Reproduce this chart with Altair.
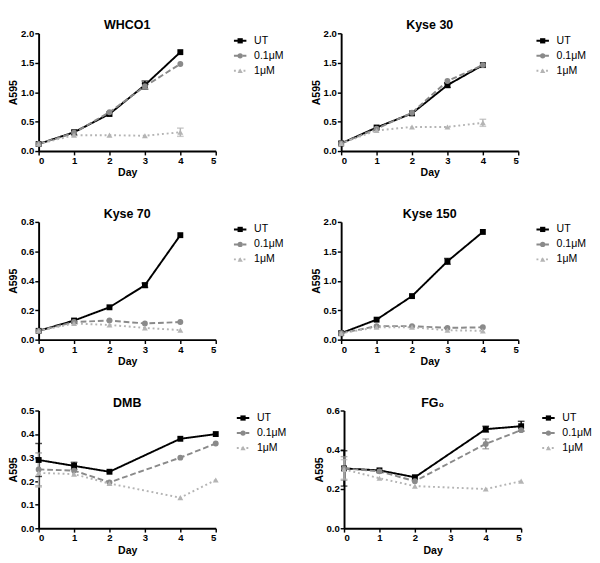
import altair as alt
import pandas as pd

TREATMENTS = ["UT", "0.1μM", "1μM"]
COLORS = ["#000000", "#8a8a8a", "#b4b4b4"]
SHAPES = ["square", "circle", "triangle-up"]
DASHES = [[1, 0], [6, 3], [2, 3]]

X_TICKS = [0, 1, 2, 3, 4, 5]
DAYS_A = [0, 1, 2, 3, 4]
DAYS_B = [0, 1, 2, 4, 5]

# WHCO1
WHCO1_UT = [0.12, 0.32, 0.63, 1.12, 1.68]
WHCO1_P1 = [0.12, 0.31, 0.66, 1.10, 1.48]
WHCO1_P2 = [0.12, 0.27, 0.27, 0.26, 0.32]
WHCO1_UT_ERR = [0, 0, 0, 0.07, 0]
WHCO1_P1_ERR = [0, 0, 0, 0.05, 0]
WHCO1_P2_ERR = [0, 0, 0, 0, 0.07]

# Kyse 30
K30_UT = [0.13, 0.40, 0.64, 1.12, 1.46]
K30_P1 = [0.13, 0.38, 0.65, 1.19, 1.46]
K30_P2 = [0.13, 0.35, 0.41, 0.41, 0.48]
K30_UT_ERR = [0, 0, 0, 0.04, 0]
K30_P1_ERR = [0, 0, 0, 0, 0]
K30_P2_ERR = [0, 0, 0, 0, 0.06]

# Kyse 70
K70_UT = [0.06, 0.13, 0.22, 0.37, 0.71]
K70_P1 = [0.06, 0.12, 0.13, 0.11, 0.12]
K70_P2 = [0.06, 0.11, 0.10, 0.08, 0.065]
K70_UT_ERR = [0, 0, 0, 0.015, 0]
K70_P1_ERR = [0, 0, 0, 0, 0]
K70_P2_ERR = [0, 0, 0, 0, 0]

# Kyse 150
K150_UT = [0.11, 0.34, 0.74, 1.33, 1.83]
K150_P1 = [0.11, 0.23, 0.23, 0.20, 0.21]
K150_P2 = [0.11, 0.21, 0.21, 0.16, 0.15]
K150_UT_ERR = [0, 0, 0, 0.05, 0]
K150_P1_ERR = [0, 0, 0, 0, 0]
K150_P2_ERR = [0, 0, 0, 0, 0]

# DMB
DMB_UT = [0.29, 0.265, 0.24, 0.38, 0.40]
DMB_P1 = [0.25, 0.245, 0.195, 0.30, 0.36]
DMB_P2 = [0.235, 0.23, 0.19, 0.13, 0.205]
DMB_UT_ERR = [0.07, 0.015, 0, 0, 0]
DMB_P1_ERR = [0.07, 0, 0, 0, 0]
DMB_P2_ERR = [0.06, 0, 0, 0, 0]

# FG0
FG_UT = [0.305, 0.295, 0.26, 0.505, 0.52]
FG_P1 = [0.305, 0.29, 0.24, 0.43, 0.50]
FG_P2 = [0.30, 0.255, 0.215, 0.20, 0.24]
FG_UT_ERR = [0.09, 0, 0, 0.015, 0.025]
FG_P1_ERR = [0.06, 0, 0, 0.025, 0]
FG_P2_ERR = [0.05, 0, 0, 0, 0]

TICKS_2 = [0.0, 0.5, 1.0, 1.5, 2.0]
TICKS_08 = [0.0, 0.2, 0.4, 0.6, 0.8]
TICKS_05 = [0.0, 0.1, 0.2, 0.3, 0.4, 0.5]
TICKS_06 = [0.0, 0.2, 0.4, 0.6]

FONT = "Liberation Sans"
PLOT_W, PLOT_H = 185, 123

color_scale = alt.Scale(domain=TREATMENTS, range=COLORS)
shape_scale = alt.Scale(domain=TREATMENTS, range=SHAPES)
dash_scale = alt.Scale(domain=TREATMENTS, range=DASHES)


def legend_box():
    ldf = pd.DataFrame({"T": TREATMENTS})
    lb = alt.Chart(ldf)
    ly = alt.Y("T:N", scale=alt.Scale(type="point", domain=TREATMENTS, padding=0.5), axis=None)
    seg = lb.mark_rule(strokeWidth=2).encode(
        x=alt.value(0), x2=alt.value(13), y=ly,
        color=alt.Color("T:N", scale=color_scale, legend=None),
        strokeDash=alt.StrokeDash("T:N", scale=dash_scale, legend=None))
    mk = lb.mark_point(filled=True, opacity=1, size=30).encode(
        x=alt.value(6.5), y=ly,
        color=alt.Color("T:N", scale=color_scale, legend=None),
        shape=alt.Shape("T:N", scale=shape_scale, legend=None))
    tx = lb.mark_text(align="left", baseline="middle", font=FONT, fontSize=11, color="black").encode(
        x=alt.value(21), y=ly, text="T:N")
    return alt.layer(seg, mk, tx).properties(title=" ", width=52, height=47)


def panel(title, days, series, errs, ymax, yticks):
    rows = []
    for t, vals, es in zip(TREATMENTS, series, errs):
        for d, v, e in zip(days, vals, es):
            rows.append(dict(Day=d, A595=v, lo=v - e, hi=v + e, err=e, T=t))
    df = pd.DataFrame(rows)
    base = alt.Chart(df)
    xscale = alt.Scale(domain=[0, 5], nice=False)
    xaxis = alt.Axis(values=X_TICKS, format="d", title="Day")
    yscale = alt.Scale(domain=[0, ymax], nice=False)
    yaxis = alt.Axis(values=yticks, format=".1f", title="A595")
    x = alt.X("Day:Q", scale=xscale, axis=xaxis)
    color = alt.Color("T:N", scale=color_scale, legend=None)

    lines = base.mark_line(strokeWidth=2).encode(
        x=x, y=alt.Y("A595:Q", scale=yscale, axis=yaxis), color=color,
        strokeDash=alt.StrokeDash("T:N", scale=dash_scale, legend=None))
    eb = base.transform_filter("datum.err > 0")
    rules = eb.mark_rule(strokeWidth=1.5).encode(
        x=x, y=alt.Y("lo:Q", scale=yscale, axis=yaxis), y2="hi:Q", color=color)
    cap_hi = eb.mark_tick(thickness=1.5, size=7, orient="horizontal").encode(
        x=x, y=alt.Y("hi:Q", scale=yscale, axis=yaxis), color=color)
    cap_lo = eb.mark_tick(thickness=1.5, size=7, orient="horizontal").encode(
        x=x, y=alt.Y("lo:Q", scale=yscale, axis=yaxis), color=color)
    pts = base.mark_point(filled=True, opacity=1, size=38).encode(
        x=x, y=alt.Y("A595:Q", scale=yscale, axis=yaxis), color=color,
        shape=alt.Shape("T:N", scale=shape_scale, legend=None))
    plot = alt.layer(lines, rules, cap_hi, cap_lo, pts).properties(
        title=title, width=PLOT_W, height=PLOT_H)
    return alt.hconcat(plot, legend_box(), spacing=17)


p1 = panel("WHCO1", DAYS_A, [WHCO1_UT, WHCO1_P1, WHCO1_P2], [WHCO1_UT_ERR, WHCO1_P1_ERR, WHCO1_P2_ERR], 2.0, TICKS_2)
p2 = panel("Kyse 30", DAYS_A, [K30_UT, K30_P1, K30_P2], [K30_UT_ERR, K30_P1_ERR, K30_P2_ERR], 2.0, TICKS_2)
p3 = panel("Kyse 70", DAYS_A, [K70_UT, K70_P1, K70_P2], [K70_UT_ERR, K70_P1_ERR, K70_P2_ERR], 0.8, TICKS_08)
p4 = panel("Kyse 150", DAYS_A, [K150_UT, K150_P1, K150_P2], [K150_UT_ERR, K150_P1_ERR, K150_P2_ERR], 2.0, TICKS_2)
p5 = panel("DMB", DAYS_B, [DMB_UT, DMB_P1, DMB_P2], [DMB_UT_ERR, DMB_P1_ERR, DMB_P2_ERR], 0.5, TICKS_05)
p6 = panel("FG₀", DAYS_B, [FG_UT, FG_P1, FG_P2], [FG_UT_ERR, FG_P1_ERR, FG_P2_ERR], 0.6, TICKS_06)

chart = alt.vconcat(
    alt.hconcat(p1, p2, spacing=28),
    alt.hconcat(p3, p4, spacing=28),
    alt.hconcat(p5, p6, spacing=28),
    spacing=32,
).properties(padding={"left": 0, "top": 0, "right": 0, "bottom": 0}).configure_axis(
    grid=False, domainColor="black", domainWidth=2, tickColor="black", tickWidth=1.5, tickSize=4,
    labelFont=FONT, labelFontWeight="bold", labelFontSize=10, labelColor="black", labelPadding=1,
    labelOverlap=False,
    titleFont=FONT, titleFontWeight="bold", titleFontSize=11, titleColor="black", titlePadding=2,
).configure_view(stroke=None).configure_title(
    font=FONT, fontSize=13, fontWeight="bold", offset=-4, anchor="middle", color="black"
)

chart.save("out.html", embed_options={"renderer": "svg", "actions": False})
